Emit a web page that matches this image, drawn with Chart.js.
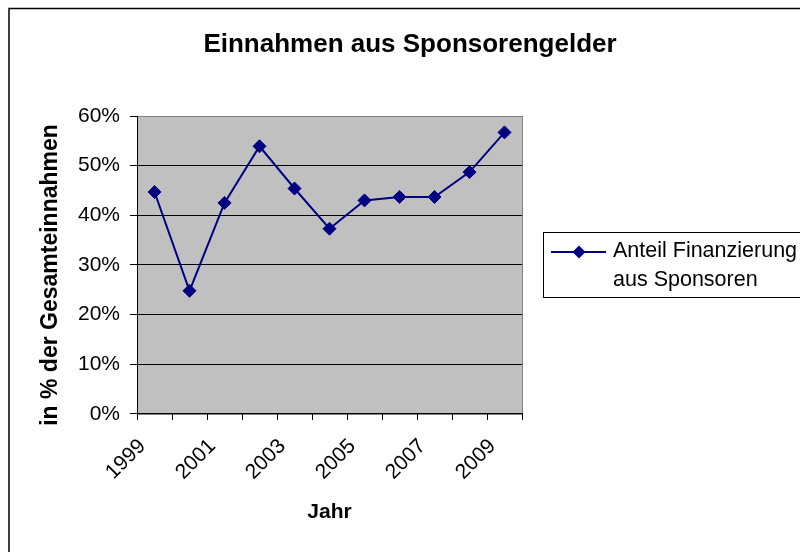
<!DOCTYPE html>
<html>
<head>
<meta charset="utf-8">
<script src="https://cdn.jsdelivr.net/npm/chart.js@4"></script>
<style>
    html, body { margin: 0; padding: 0; background: #fff; }
    #wrap { width: 800px; height: 552px; }
</style>
</head>
<body>
<div id="wrap"><canvas id="sponsor-chart" width="800" height="552"></canvas></div>
<script>
const years = ['1999', '2000', '2001', '2002', '2003', '2004', '2005', '2006', '2007', '2008', '2009'];
const shares = [44.7, 24.8, 42.5, 53.9, 45.4, 37.3, 43.0, 43.7, 43.7, 48.7, 56.7];
const yMax = 60;
const yStep = 10;
const chartTitle = 'Einnahmen aus Sponsorengelder';
const yTitle = 'in % der Gesamteinnahmen';
const xTitle = 'Jahr';
const legendLines = ['Anteil Finanzierung', 'aus Sponsoren'];

const FONT = '"Liberation Sans", Arial, sans-serif';
const NAVY = '#000080';

// frame, grey plot area, titles and the legend box
const decorations = {
    id: 'decorations',
    beforeDraw(chart) {
        const { ctx, chartArea: a } = chart;
        ctx.save();
        ctx.fillStyle = '#fff';
        ctx.fillRect(0, 0, chart.width, chart.height);
        ctx.strokeStyle = '#000';
        ctx.lineWidth = 1.5;
        ctx.strokeRect(9, 8.5, chart.width + 20, chart.height + 20);
        ctx.fillStyle = '#c0c0c0';
        ctx.fillRect(a.left, a.top, a.right - a.left, a.bottom - a.top);
        ctx.strokeStyle = '#808080';
        ctx.lineWidth = 1;
        ctx.strokeRect(a.left + 0.5, a.top + 0.5, a.right - a.left, a.bottom - a.top);
        ctx.restore();
    },
    afterDraw(chart) {
        const { ctx } = chart;
        ctx.save();
        ctx.fillStyle = '#000';
        ctx.textAlign = 'center';
        ctx.textBaseline = 'alphabetic';
        ctx.font = 'bold 26px ' + FONT;
        ctx.fillText(chartTitle, 410, 52);

        // y axis title, rotated
        ctx.save();
        ctx.translate(51, 275);
        ctx.rotate(-Math.PI / 2);
        ctx.textBaseline = 'middle';
        ctx.font = 'bold 23px ' + FONT;
        ctx.fillText(yTitle, 0, 0);
        ctx.restore();

        // legend
        ctx.strokeStyle = '#000';
        ctx.lineWidth = 1;
        ctx.strokeRect(543.5, 232.5, 300, 65);
        ctx.strokeStyle = NAVY;
        ctx.lineWidth = 2;
        ctx.beginPath();
        ctx.moveTo(551, 252);
        ctx.lineTo(606, 252);
        ctx.stroke();
        ctx.fillStyle = NAVY;
        ctx.beginPath();
        ctx.moveTo(579, 245.5);
        ctx.lineTo(585.5, 252);
        ctx.lineTo(579, 258.5);
        ctx.lineTo(572.5, 252);
        ctx.closePath();
        ctx.fill();
        ctx.fillStyle = '#000';
        ctx.textAlign = 'left';
        ctx.textBaseline = 'alphabetic';
        ctx.font = '21.5px ' + FONT;
        legendLines.forEach((line, i) => {
            ctx.fillText(line, 613, 257 + i * 29);
        });
        ctx.restore();
    }
};

const ctx = document.getElementById('sponsor-chart').getContext('2d');

new Chart(ctx, {
    type: 'line',
    data: {
        labels: years,
        datasets: [{
            label: legendLines.join(' '),
            data: shares,
            borderColor: NAVY,
            backgroundColor: NAVY,
            borderWidth: 2,
            pointStyle: 'rectRot',
            pointRadius: 6.5,
            pointBorderWidth: 1,
            tension: 0
        }]
    },
    options: {
        responsive: false,
        animation: false,
        layout: {
            padding: { left: 68, right: 278, top: 116, bottom: 27 }
        },
        plugins: {
            legend: { display: false },
            title: { display: false },
            tooltip: { enabled: false }
        },
        scales: {
            x: {
                offset: true,
                grid: {
                    offset: true,
                    drawOnChartArea: false,
                    tickLength: 6,
                    tickColor: '#000'
                },
                border: { color: '#000', width: 1 },
                ticks: {
                    autoSkip: false,
                    minRotation: 45,
                    maxRotation: 45,
                    padding: 14,
                    labelOffset: -12,
                    color: '#000',
                    font: { family: FONT, size: 21 },
                    callback: function (value, index) {
                        return index % 2 === 0 ? this.getLabelForValue(value) : '';
                    }
                },
                title: {
                    display: true,
                    text: xTitle,
                    color: '#000',
                    font: { family: FONT, size: 21, weight: 'bold' },
                    padding: { top: 1, bottom: 0 }
                }
            },
            y: {
                min: 0,
                max: yMax,
                grid: {
                    color: c => (c.tick && c.tick.value === yMax ? '#808080' : '#000'),
                    tickColor: '#000',
                    tickLength: 7
                },
                border: { color: '#000', width: 1 },
                ticks: {
                    stepSize: yStep,
                    padding: 10,
                    color: '#000',
                    font: { family: FONT, size: 21 },
                    callback: v => v + '%'
                }
            }
        }
    },
    plugins: [decorations]
});
</script>
</body>
</html>
